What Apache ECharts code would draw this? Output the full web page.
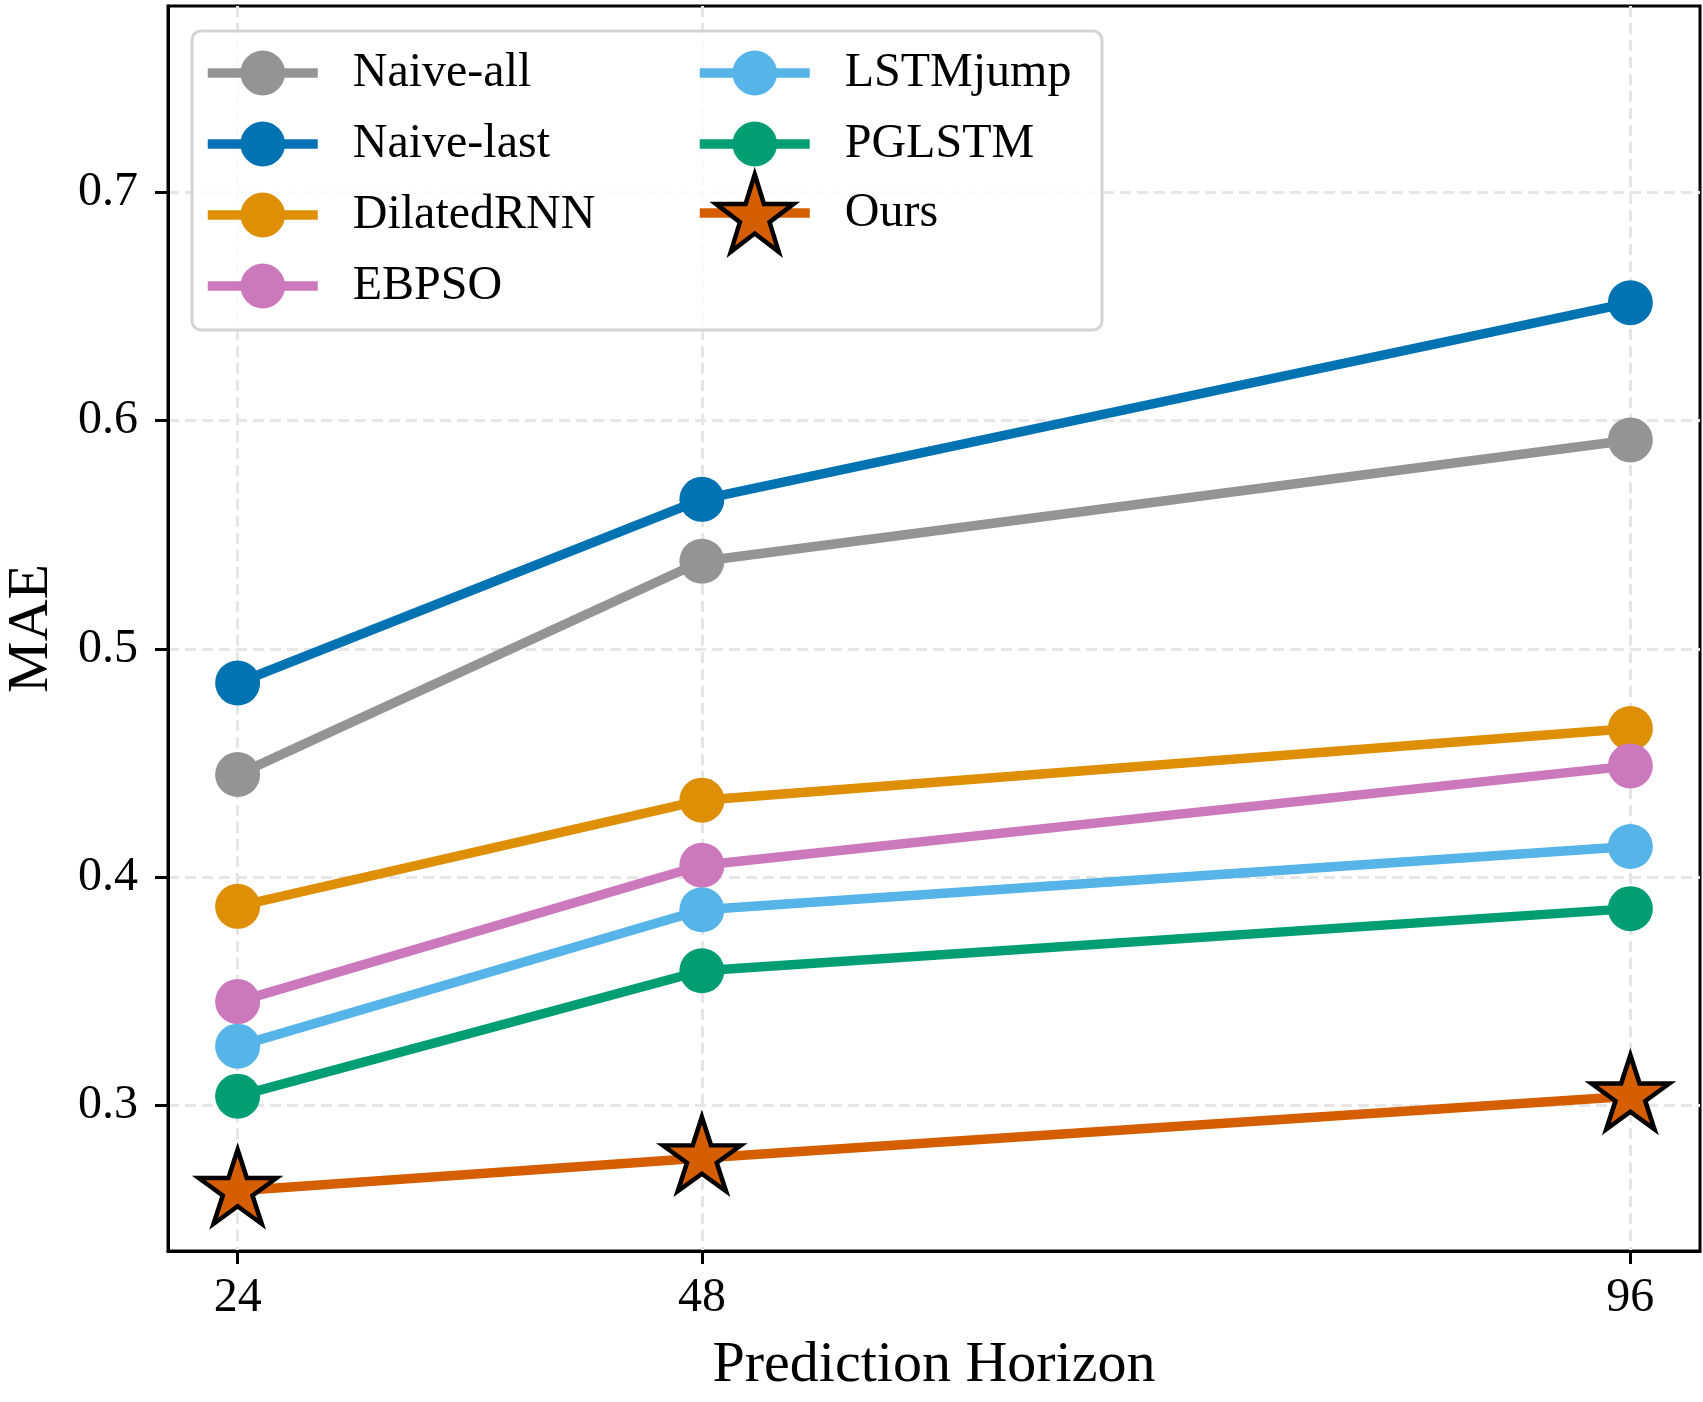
<!DOCTYPE html>
<html>
<head>
<meta charset="utf-8">
<script src="https://cdn.jsdelivr.net/npm/echarts@6/dist/echarts.min.js"></script>
<style>html,body{margin:0;padding:0;background:#fff;}#c{width:1703px;height:1402px;}</style>
</head>
<body>
<div id="c"></div>
<script>
const horizons = [24, 48, 96];
const xTicks = [24, 48, 96];
const yTicks = [0.3, 0.4, 0.5, 0.6, 0.7];
const seriesNames = ['Naive-all', 'Naive-last', 'DilatedRNN', 'EBPSO', 'LSTMjump', 'PGLSTM', 'Ours'];
const naiveAll = [0.445, 0.5384, 0.5915];
const naiveLast = [0.4851, 0.5655, 0.6516];
const dilatedRNN = [0.3873, 0.4338, 0.4652];
const ebpso = [0.3456, 0.4053, 0.4488];
const lstmJump = [0.3261, 0.3858, 0.4135];
const pglstm = [0.3042, 0.3591, 0.3863];
const ours = [0.2628, 0.2771, 0.3042];
const colors = ['#949494', '#0173b2', '#de8f05', '#cc78bc', '#56b4e9', '#029e73', '#d55e00'];

const FONT = "'Liberation Serif', 'Times New Roman', serif";
const STAR = 'path://M0,-100 L22.45,-30.9 L95.11,-30.9 L36.33,11.8 L58.78,80.9 L0,38.2 L-58.78,80.9 L-36.33,11.8 L-95.11,-30.9 L-22.45,-30.9 Z';
const R = 41;

const values = [naiveAll, naiveLast, dilatedRNN, ebpso, lstmJump, pglstm, ours];

const series = values.map((vals, i) => {
  const isStar = i === 6;
  return {
    name: seriesNames[i],
    type: 'line',
    data: horizons.map((h, j) => [h, vals[j]]),
    symbol: isStar ? STAR : 'circle',
    symbolSize: isStar ? [1.902 * R, 1.809 * R] : 45,
    symbolOffset: isStar ? [0, -0.0955 * R] : [0, 0],
    symbolKeepAspect: false,
    showSymbol: true,
    lineStyle: { color: colors[i], width: 9.5 },
    itemStyle: isStar ? { color: colors[i], borderColor: '#000', borderWidth: 4.5 } : { color: colors[i], borderWidth: 0 },
    emphasis: { disabled: true },
    z: 2
  };
});

const legendText = { fontFamily: FONT, fontSize: 48, color: '#000', lineHeight: 56 };

const chart = echarts.init(document.getElementById('c'));
chart.setOption({
  animation: false,
  backgroundColor: '#fff',
  grid: { left: 168, top: 6, right: 3, bottom: 151, show: true, borderColor: '#000', borderWidth: 3, backgroundColor: 'transparent', containLabel: false, outerBoundsMode: 'none' },
  xAxis: {
    type: 'value', min: 20.4, max: 99.6,
    name: 'Prediction Horizon', nameLocation: 'middle', nameGap: 86,
    nameTextStyle: { fontFamily: FONT, fontSize: 58, color: '#000' },
    axisLine: { show: true, lineStyle: { color: '#000', width: 3 } },
    axisTick: { show: true, length: 13, lineStyle: { color: '#000', width: 3 }, customValues: xTicks },
    axisLabel: { fontFamily: FONT, fontSize: 48, color: '#000', margin: 23, customValues: xTicks },
    splitLine: { show: true, lineStyle: { color: '#e6e6e6', width: 3, type: [11, 6] } }
  },
  yAxis: {
    type: 'value', min: 0.2364, max: 0.7815,
    name: 'MAE', nameLocation: 'middle', nameGap: 107, nameRotate: 90,
    nameTextStyle: { fontFamily: FONT, fontSize: 58, color: '#000' },
    axisLine: { show: true, lineStyle: { color: '#000', width: 3 } },
    axisTick: { show: true, length: 13, lineStyle: { color: '#000', width: 3 }, customValues: yTicks },
    axisLabel: { fontFamily: FONT, fontSize: 48, color: '#000', margin: 30, customValues: yTicks, formatter: v => v.toFixed(1) },
    splitLine: { show: true, lineStyle: { color: '#e6e6e6', width: 3, type: [11, 6] } }
  },
  graphic: [{
    type: 'rect', z: 3,
    shape: { x: 192, y: 31, width: 910, height: 299, r: 9 },
    style: { fill: 'rgba(255,255,255,0.8)', stroke: '#d4d4d4', lineWidth: 3 }
  }],
  legend: [
    {
      data: seriesNames.slice(0, 4), orient: 'vertical', left: 203, top: 45, padding: 0,
      itemWidth: 110, itemHeight: 56, itemGap: 15, selectedMode: false,
      lineStyle: { width: 9.5 }, itemStyle: { borderWidth: 0 },
      textStyle: Object.assign({ padding: [0, 0, 0, 30] }, legendText), z: 5
    },
    {
      data: seriesNames.slice(4, 6), orient: 'vertical', left: 695, top: 45, padding: 0,
      itemWidth: 110, itemHeight: 56, itemGap: 15, selectedMode: false,
      lineStyle: { width: 9.5 }, itemStyle: { borderWidth: 0 },
      textStyle: Object.assign({ padding: [0, 0, 0, 30] }, legendText), z: 5
    },
    {
      data: [seriesNames[6]], orient: 'vertical', left: 695, top: 172, padding: 0,
      itemWidth: 110, itemHeight: 97, itemGap: 0, selectedMode: false,
      lineStyle: { width: 9.5 }, itemStyle: { borderWidth: 4.5, borderColor: '#000' },
      textStyle: Object.assign({ padding: [0, 0, 0, 30] }, legendText), z: 5
    }
  ],
  series: series
});
</script>
</body>
</html>
